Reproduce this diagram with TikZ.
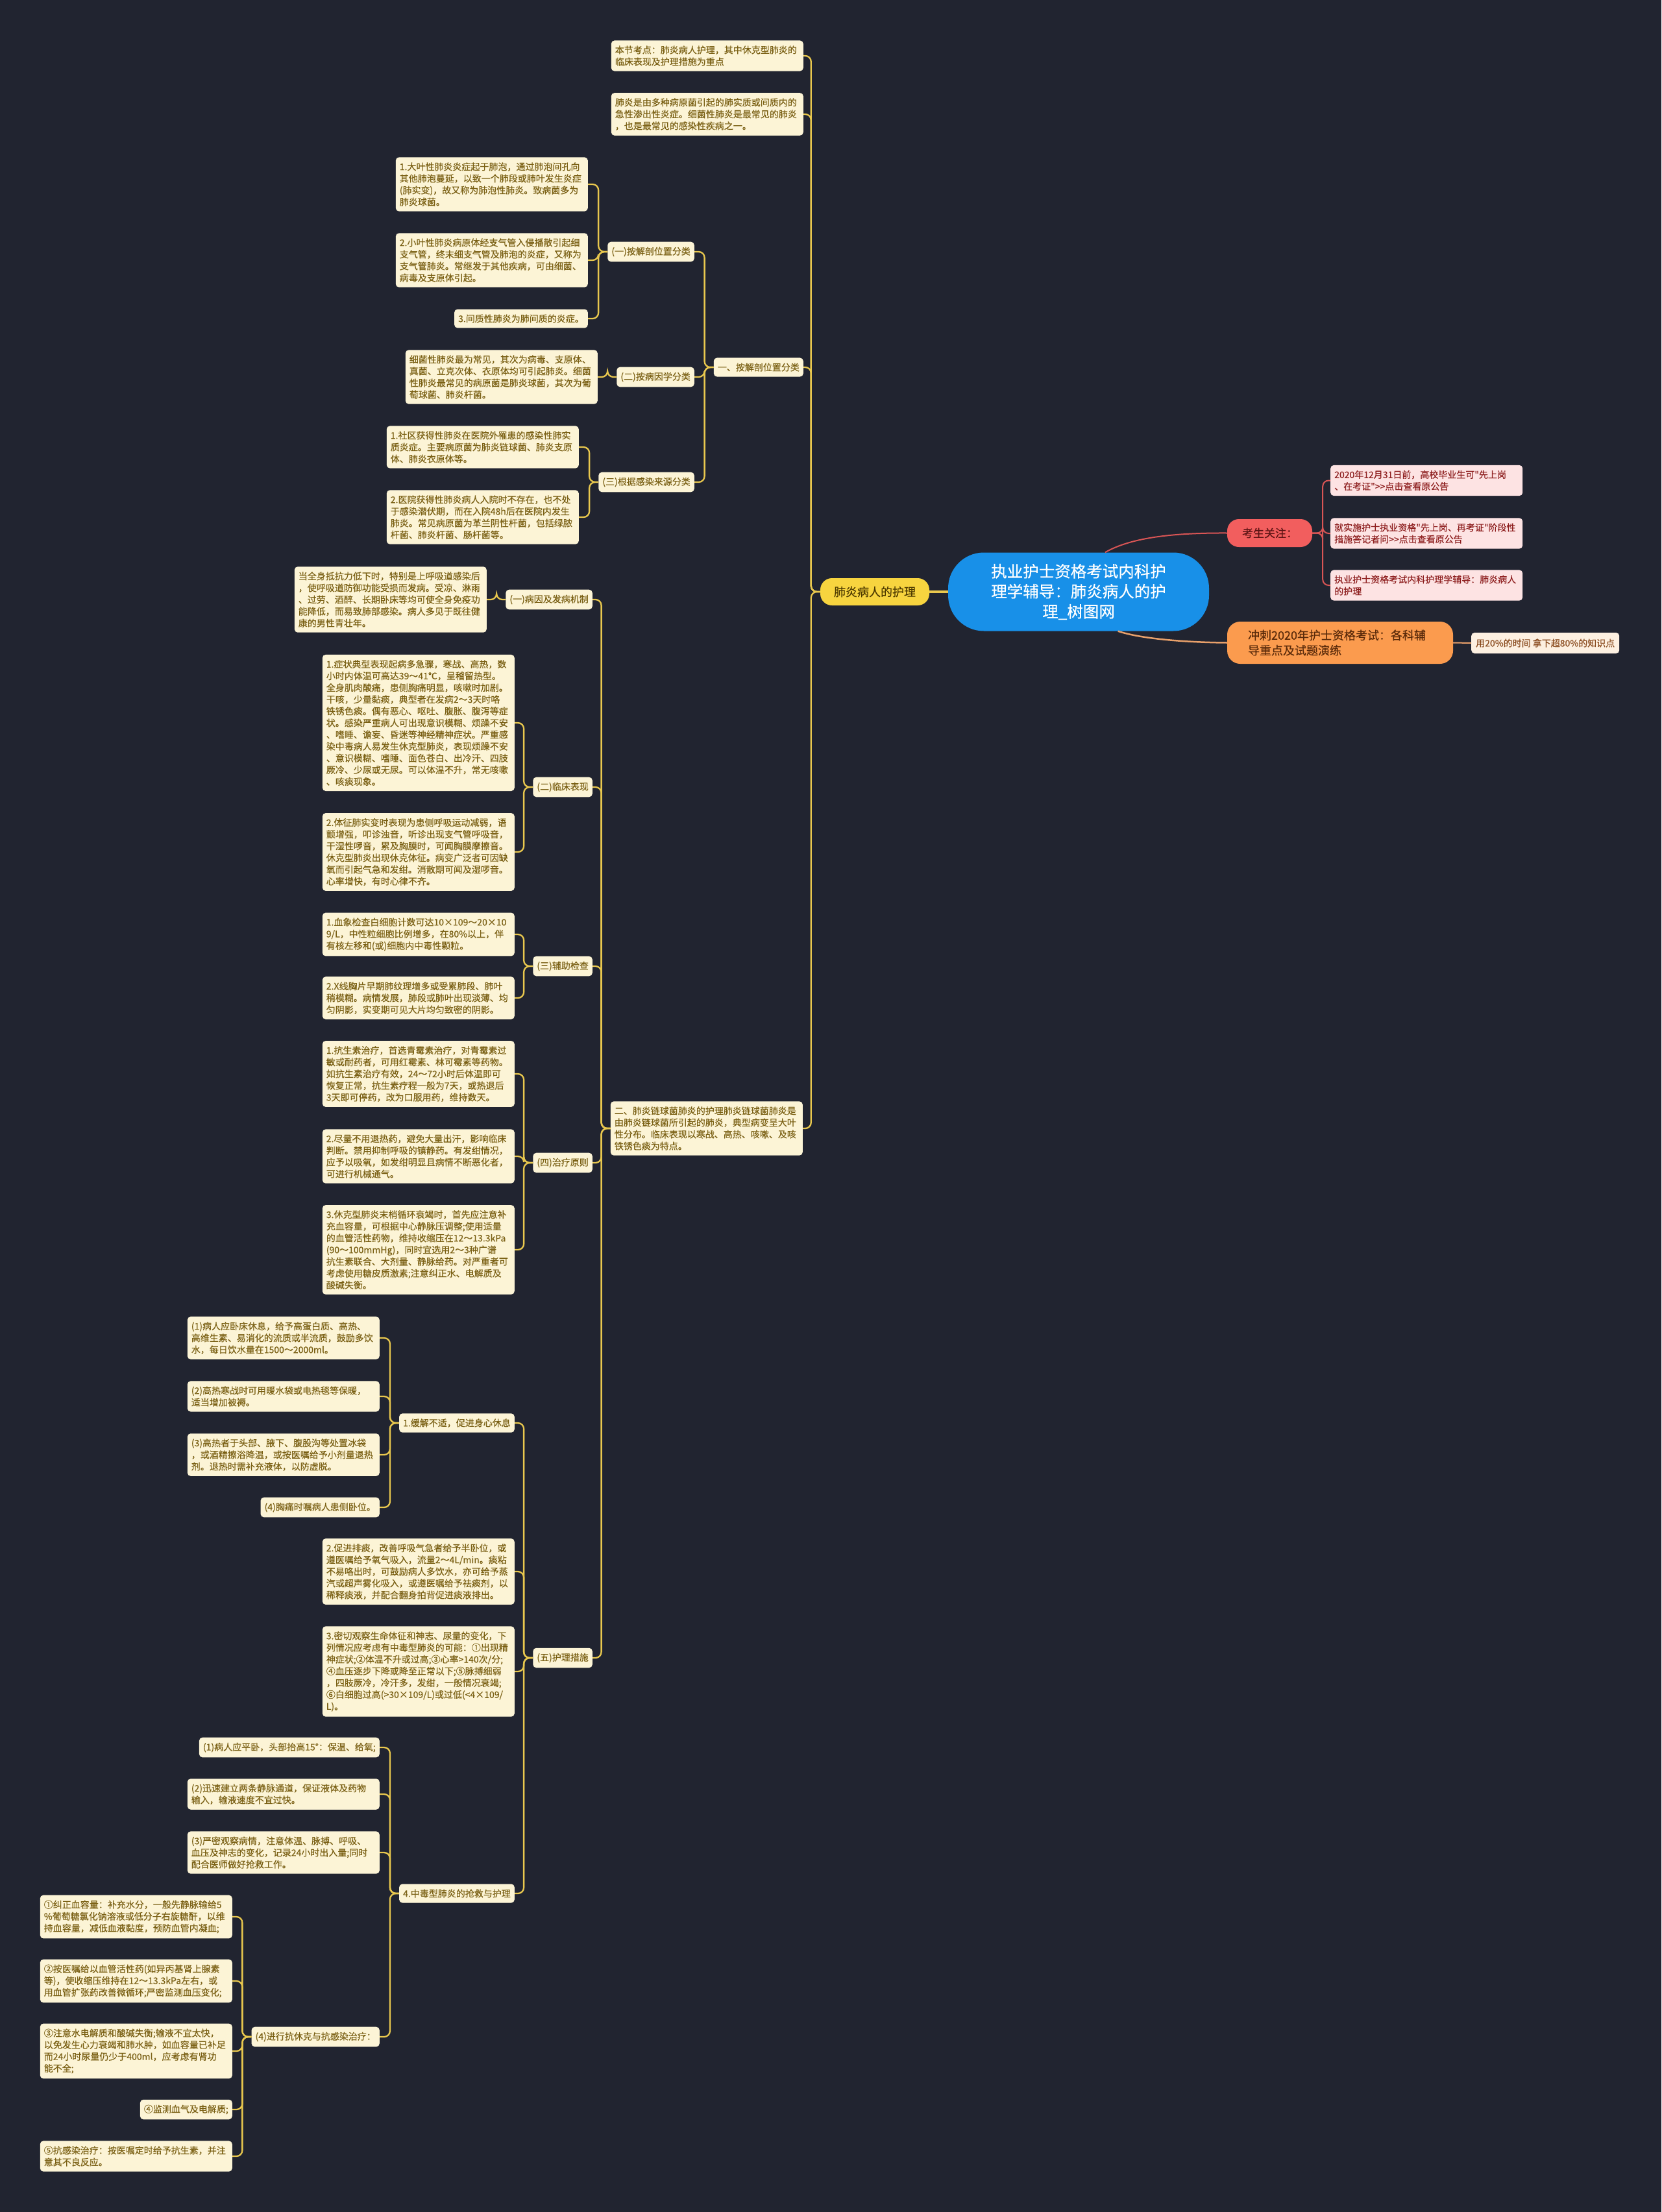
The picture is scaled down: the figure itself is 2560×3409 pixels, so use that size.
\documentclass[tikz,border=0pt]{standalone}
\usepackage{fontspec}
\newfontfamily\cjk{Noto Sans CJK SC}[FakeBold=0.35]
\definecolor{bg}{HTML}{212430}
\definecolor{cream}{HTML}{FCF4D6}
\definecolor{olivetxt}{HTML}{7A6014}
\definecolor{lineyel}{HTML}{E9C84E}
\definecolor{rootblue}{HTML}{1890E8}
\definecolor{feiyel}{HTML}{F7D43F}
\definecolor{feitxt}{HTML}{4D3A00}
\definecolor{kaored}{HTML}{F25E5E}
\definecolor{kaotxt}{HTML}{5C1414}
\definecolor{pinkfill}{HTML}{FDE3E3}
\definecolor{pinktxt}{HTML}{8E1F1F}
\definecolor{redline}{HTML}{D95555}
\definecolor{orangefill}{HTML}{FB9B4E}
\definecolor{orangetxt}{HTML}{5A2A0A}
\definecolor{orangeline}{HTML}{E8A06A}
\definecolor{peachfill}{HTML}{FDF0E1}
\definecolor{peachtxt}{HTML}{8A4B1E}
\tikzset{
  leaf/.style={fill=cream, text=olivetxt, rounded corners=5pt, inner xsep=6pt, inner ysep=8pt,
    align=left, font={\cjk\fontsize{14}{18.1}\selectfont}, anchor=east},
  wide/.style={text width=284pt},
  pinkbox/.style={leaf, fill=pinkfill, text=pinktxt, anchor=west, text width=284pt},
  link/.style={draw=lineyel, line width=2.3pt, rounded corners=9pt},
  redlink/.style={draw=redline, line width=2pt, rounded corners=9pt},
  rootbox/.style={fill=rootblue, text=white, rounded corners=55pt, minimum width=402pt,
    minimum height=121pt, inner sep=0pt, align=center, font={\cjk\fontsize{24.5}{31}\selectfont}},
  feibox/.style={fill=feiyel, text=feitxt, rounded corners=18pt, minimum width=168pt,
    minimum height=42pt, inner sep=0pt, font={\cjk\fontsize{18}{22}\selectfont}},
  kaobox/.style={fill=kaored, text=kaotxt, rounded corners=18pt, minimum width=131pt,
    minimum height=43pt, inner sep=0pt, font={\cjk\fontsize{17}{21}\selectfont}},
  chongbox/.style={fill=orangefill, text=orangetxt, rounded corners=20pt, inner xsep=32pt,
    text width=284pt, minimum height=65pt, align=left, font={\cjk\fontsize{18}{23.3}\selectfont}},
  peachbox/.style={fill=peachfill, text=peachtxt, rounded corners=5pt, inner xsep=7pt,
    minimum height=32pt, font={\cjk\fontsize{14}{18}\selectfont}, anchor=west}
}
\newcommand\lk[3][link]{\draw[#1] (#2.west) -- ++(-14,0) |- (#3.east);}
\begin{document}
\begin{tikzpicture}[x=1pt,y=-1pt]
\fill[bg] (0,0) rectangle (2560,3409);
\useasboundingbox (0,0) rectangle (2560,3409);

% central
\node[rootbox] (root) at (1662,912) {执业护士资格考试内科护\\理学辅导：肺炎病人的护\\理\_树图网};
\node[feibox] (fei) at (1348,912) {肺炎病人的护理};
\node[kaobox] (kao) at (1956.5,821.5) {考生关注：};
\node[pinkbox] (p1) at (2050,740.5) {2020年12月31日前，高校毕业生可"先上岗\\、在考证">>点击查看原公告};
\node[pinkbox] (p2) at (2050,822) {就实施护士执业资格"先上岗、再考证"阶段性\\措施答记者问>>点击查看原公告};
\node[pinkbox] (p3) at (2050,902) {执业护士资格考试内科护理学辅导：肺炎病人\\的护理};
\node[chongbox] (chong) at (2065,990.5) {冲刺2020年护士资格考试：各科辅\\导重点及试题演练};
\node[peachbox] (peach) at (2267,991) {用20\%的时间 拿下超80\%的知识点};

% level 1 on the left
\node[leaf,wide] (n1) at (1238,86) {本节考点：肺炎病人护理，其中休克型肺炎的\\临床表现及护理措施为重点};
\node[leaf,wide] (n2) at (1238,176) {肺炎是由多种病原菌引起的肺实质或间质内的\\急性渗出性炎症。细菌性肺炎是最常见的肺炎\\，也是最常见的感染性疾病之一。};
\node[leaf] (a1) at (1238,566) {一、按解剖位置分类};
\node[leaf,wide] (b) at (1237,1739) {二、肺炎链球菌肺炎的护理肺炎链球菌肺炎是\\由肺炎链球菌所引起的肺炎，典型病变呈大叶\\性分布。临床表现以寒战、高热、咳嗽、及咳\\铁锈色痰为特点。};

% branch 一
\node[leaf] (a11) at (1070,388) {(一)按解剖位置分类};
\node[leaf] (a12) at (1070,581) {(二)按病因学分类};
\node[leaf] (a13) at (1070,743) {(三)根据感染来源分类};
\node[leaf,wide] (a111) at (906,284) {1.大叶性肺炎炎症起于肺泡，通过肺泡间孔向\\其他肺泡蔓延，以致一个肺段或肺叶发生炎症\\(肺实变)，故又称为肺泡性肺炎。致病菌多为\\肺炎球菌。};
\node[leaf,wide] (a112) at (906,401) {2.小叶性肺炎病原体经支气管入侵播散引起细\\支气管，终末细支气管及肺泡的炎症，又称为\\支气管肺炎。常继发于其他疾病，可由细菌、\\病毒及支原体引起。};
\node[leaf] (a113) at (906,491) {3.间质性肺炎为肺间质的炎症。};
\node[leaf,wide] (a121) at (921,581) {细菌性肺炎最为常见，其次为病毒、支原体、\\真菌、立克次体、衣原体均可引起肺炎。细菌\\性肺炎最常见的病原菌是肺炎球菌，其次为葡\\萄球菌、肺炎杆菌。};
\node[leaf,wide] (a131) at (892,689) {1.社区获得性肺炎在医院外罹患的感染性肺实\\质炎症。主要病原菌为肺炎链球菌、肺炎支原\\体、肺炎衣原体等。};
\node[leaf,wide] (a132) at (892,797) {2.医院获得性肺炎病人入院时不存在，也不处\\于感染潜伏期，而在入院48h后在医院内发生\\肺炎。常见病原菌为革兰阴性杆菌，包括绿脓\\杆菌、肺炎杆菌、肠杆菌等。};

% branch 二
\node[leaf] (b1) at (913,924) {(一)病因及发病机制};
\node[leaf] (b2) at (913,1213) {(二)临床表现};
\node[leaf] (b3) at (913,1489) {(三)辅助检查};
\node[leaf] (b4) at (913,1792) {(四)治疗原则};
\node[leaf] (b5) at (913,2555) {(五)护理措施};

\node[leaf,wide] (b11) at (750,924) {当全身抵抗力低下时，特别是上呼吸道感染后\\，使呼吸道防御功能受损而发病。受凉、淋雨\\、过劳、酒醉、长期卧床等均可使全身免疫功\\能降低，而易致肺部感染。病人多见于既往健\\康的男性青壮年。};

\node[leaf,wide] (b21) at (793,1114) {1.症状典型表现起病多急骤，寒战、高热，数\\小时内体温可高达39～41℃，呈稽留热型。\\全身肌肉酸痛，患侧胸痛明显，咳嗽时加剧。\\干咳，少量黏痰，典型者在发病2～3天时咯\\铁锈色痰。偶有恶心、呕吐、腹胀、腹泻等症\\状。感染严重病人可出现意识模糊、烦躁不安\\、嗜睡、谵妄、昏迷等神经精神症状。严重感\\染中毒病人易发生休克型肺炎，表现烦躁不安\\、意识模糊、嗜睡、面色苍白、出冷汗、四肢\\厥冷、少尿或无尿。可以体温不升，常无咳嗽\\、咳痰现象。};
\node[leaf,wide] (b22) at (793,1313) {2.体征肺实变时表现为患侧呼吸运动减弱，语\\颤增强，叩诊浊音，听诊出现支气管呼吸音，\\干湿性啰音，累及胸膜时，可闻胸膜摩擦音。\\休克型肺炎出现休克体征。病变广泛者可因缺\\氧而引起气急和发绀。消散期可闻及湿啰音。\\心率增快，有时心律不齐。};

\node[leaf,wide] (b31) at (793,1440) {1.血象检查白细胞计数可达10×109～20×10\\9/L，中性粒细胞比例增多，在80\%以上，伴\\有核左移和(或)细胞内中毒性颗粒。};
\node[leaf,wide] (b32) at (793,1538) {2.X线胸片早期肺纹理增多或受累肺段、肺叶\\稍模糊。病情发展，肺段或肺叶出现淡薄、均\\匀阴影，实变期可见大片均匀致密的阴影。};

\node[leaf,wide] (b41) at (793,1655) {1.抗生素治疗，首选青霉素治疗，对青霉素过\\敏或耐药者，可用红霉素、林可霉素等药物。\\如抗生素治疗有效，24～72小时后体温即可\\恢复正常，抗生素疗程一般为7天，或热退后\\3天即可停药，改为口服用药，维持数天。};
\node[leaf,wide] (b42) at (793,1782) {2.尽量不用退热药，避免大量出汗，影响临床\\判断。禁用抑制呼吸的镇静药。有发绀情况，\\应予以吸氧，如发绀明显且病情不断恶化者，\\可进行机械通气。};
\node[leaf,wide] (b43) at (793,1926) {3.休克型肺炎末梢循环衰竭时，首先应注意补\\充血容量，可根据中心静脉压调整;使用适量\\的血管活性药物，维持收缩压在12～13.3kPa\\(90～100mmHg)，同时宜选用2～3种广谱\\抗生素联合、大剂量、静脉给药。对严重者可\\考虑使用糖皮质激素;注意纠正水、电解质及\\酸碱失衡。};

\node[leaf] (b51) at (793,2193) {1.缓解不适，促进身心休息};
\node[leaf,wide] (b52) at (793,2422) {2.促进排痰，改善呼吸气急者给予半卧位，或\\遵医嘱给予氧气吸入，流量2～4L/min。痰粘\\不易咯出时，可鼓励病人多饮水，亦可给予蒸\\汽或超声雾化吸入，或遵医嘱给予祛痰剂，以\\稀释痰液，并配合翻身拍背促进痰液排出。};
\node[leaf,wide] (b53) at (793,2576) {3.密切观察生命体征和神志、尿量的变化，下\\列情况应考虑有中毒型肺炎的可能：①出现精\\神症状;②体温不升或过高;③心率>140次/分;\\④血压逐步下降或降至正常以下;⑤脉搏细弱\\，四肢厥冷，冷汗多，发绀，一般情况衰竭;\\⑥白细胞过高(>30×109/L)或过低(<4×109/\\L)。};
\node[leaf] (b54) at (793,2918) {4.中毒型肺炎的抢救与护理};

\node[leaf,wide] (b511) at (585,2062) {(1)病人应卧床休息，给予高蛋白质、高热、\\高维生素、易消化的流质或半流质，鼓励多饮\\水，每日饮水量在1500～2000ml。};
\node[leaf,wide] (b512) at (585,2152) {(2)高热寒战时可用暖水袋或电热毯等保暖，\\适当增加被褥。};
\node[leaf,wide] (b513) at (585,2242) {(3)高热者于头部、腋下、腹股沟等处置冰袋\\，或酒精擦浴降温，或按医嘱给予小剂量退热\\剂。退热时需补充液体，以防虚脱。};
\node[leaf] (b514) at (585,2323) {(4)胸痛时嘱病人患侧卧位。};

\node[leaf] (b541) at (585,2693) {(1)病人应平卧，头部抬高15°：保温、给氧;};
\node[leaf,wide] (b542) at (585,2765) {(2)迅速建立两条静脉通道，保证液体及药物\\输入，输液速度不宜过快。};
\node[leaf,wide] (b543) at (585,2855) {(3)严密观察病情，注意体温、脉搏、呼吸、\\血压及神志的变化，记录24小时出入量;同时\\配合医师做好抢救工作。};
\node[leaf] (b544) at (585,3139) {(4)进行抗休克与抗感染治疗：};

\node[leaf,wide] (c1) at (358,2954) {①纠正血容量：补充水分，一般先静脉输给5\\\%葡萄糖氯化钠溶液或低分子右旋糖酐，以维\\持血容量，减低血液黏度，预防血管内凝血;};
\node[leaf,wide] (c2) at (358,3053) {②按医嘱给以血管活性药(如异丙基肾上腺素\\等)，使收缩压维持在12～13.3kPa左右，或\\用血管扩张药改善微循环;严密监测血压变化;};
\node[leaf,wide] (c3) at (358,3161) {③注意水电解质和酸碱失衡;输液不宜太快，\\以免发生心力衰竭和肺水肿，如血容量已补足\\而24小时尿量仍少于400ml，应考虑有肾功\\能不全;};
\node[leaf] (c4) at (358,3251) {④监测血气及电解质;};
\node[leaf,wide] (c5) at (358,3323) {⑤抗感染治疗：按医嘱定时给予抗生素，并注\\意其不良反应。};

% connectors: right side
\draw[draw=lineyel, line width=4pt] (root.west) -- (fei.east);
\draw[redlink] (root.56) .. controls (1740,830) and (1800,821) .. (kao.west);
\draw[draw=orangeline, line width=2.5pt] (root.-45) .. controls (1760,985) and (1830,990) .. (chong.west);
\draw[draw=orangeline, line width=2pt] (chong.east) -- (peach.west);
\foreach \p in {p1,p2,p3} {\draw[redlink] (kao.east) -- ++(16,0) |- (\p.west);}

% connectors: left side
\foreach \c in {n1,n2,a1,b} {\lk{fei}{\c}}
\foreach \c in {a11,a12,a13} {\lk{a1}{\c}}
\foreach \c in {a111,a112,a113} {\lk{a11}{\c}}
\lk{a12}{a121}
\foreach \c in {a131,a132} {\lk{a13}{\c}}
\foreach \c in {b1,b2,b3,b4,b5} {\lk{b}{\c}}
\lk{b1}{b11}
\foreach \c in {b21,b22} {\lk{b2}{\c}}
\foreach \c in {b31,b32} {\lk{b3}{\c}}
\foreach \c in {b41,b42,b43} {\lk{b4}{\c}}
\foreach \c in {b51,b52,b53,b54} {\lk{b5}{\c}}
\foreach \c in {b511,b512,b513,b514} {\lk{b51}{\c}}
\foreach \c in {b541,b542,b543,b544} {\lk{b54}{\c}}
\foreach \c in {c1,c2,c3,c4,c5} {\lk{b544}{\c}}
\end{tikzpicture}
\end{document}
